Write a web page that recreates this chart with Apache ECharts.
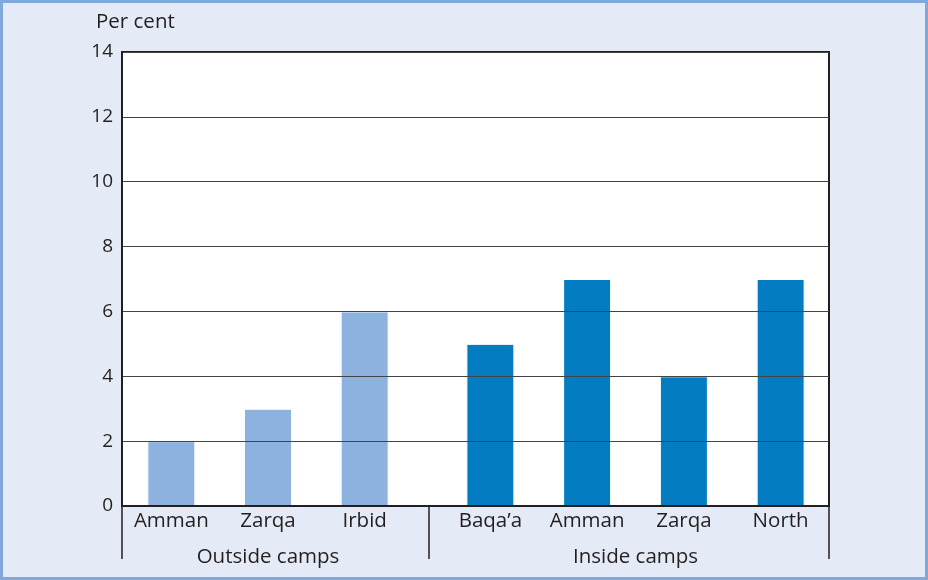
<!DOCTYPE html>
<html>
<head>
<meta charset="utf-8">
<script src="https://cdn.jsdelivr.net/npm/echarts@6/dist/echarts.min.js"></script>
<style>
html, body { margin: 0; padding: 0; }
#frame {
    position: absolute; left: 0; top: 0;
    width: 928px; height: 580px;
    box-sizing: border-box;
    background: #e4eaf6;
    border: 3px solid #80a8db;
}
#chart { position: absolute; left: 0; top: 0; width: 928px; height: 580px; }
</style>
</head>
<body>
<div id="frame"></div>
<div id="chart"></div>
<script>
// data
const outsideCats = ['Amman', 'Zarqa', 'Irbid']
const outsideVals = [2, 3, 6]
const insideCats = ['Baqa\u2019a', 'Amman', 'Zarqa', 'North']
const insideVals = [5, 7, 4, 7]
const groupNames = ['Outside camps', 'Inside camps']
const yTicks = { min: 0, max: 14, interval: 2 }

const textColor = '#231f20'
const font = 'Open Sans'
const plotTop = 52
const plotHeight = 454

const chart = echarts.init(document.getElementById('chart'))

const hiddenY = (gridIndex) => ({
    type: 'value',
    gridIndex: gridIndex,
    min: yTicks.min,
    max: yTicks.max,
    interval: yTicks.interval,
    axisLine: { show: false },
    axisTick: { show: false },
    axisLabel: { show: false },
    splitLine: { show: false }
})

const catX = (gridIndex, cats, name) => ({
    type: 'category',
    gridIndex: gridIndex,
    data: cats,
    axisLine: { show: false },
    axisTick: { show: false },
    axisLabel: { color: textColor, fontSize: 20.5, fontFamily: font, margin: 5,
                 interval: 0, hideOverlap: false },
    name: name,
    nameLocation: 'middle',
    nameGap: 41,
    nameTextStyle: { color: textColor, fontSize: 20.5, fontFamily: font }
})

chart.setOption({
    animation: false,
    title: {
        text: 'Per cent',
        left: 91,
        top: 7,
        textStyle: { color: textColor, fontSize: 20.5, fontWeight: 'normal', fontFamily: font }
    },
    grid: [
        // full plot frame with gridlines
        { left: 122, width: 707, top: plotTop, height: plotHeight, show: true,
          backgroundColor: '#fff', borderColor: textColor, borderWidth: 2 },
        { left: 123, width: 290, top: plotTop, height: plotHeight },
        { left: 442, width: 387, top: plotTop, height: plotHeight }
    ],
    xAxis: [
        {
            type: 'value',
            gridIndex: 0,
            min: 0,
            max: 1,
            z: 5,
            axisLine: { show: true, lineStyle: { color: textColor, width: 2 } },
            axisTick: { show: true, customValues: [0, 0.434, 1], length: 53,
                        lineStyle: { color: textColor, width: 1.5 } },
            axisLabel: { show: false },
            splitLine: { show: false }
        },
        catX(1, outsideCats, groupNames[0]),
        catX(2, insideCats, groupNames[1])
    ],
    yAxis: [
        {
            type: 'value',
            gridIndex: 0,
            min: yTicks.min,
            max: yTicks.max,
            interval: yTicks.interval,
            z: 5,
            axisLine: { show: true, lineStyle: { color: textColor, width: 2 } },
            axisTick: { show: false },
            axisLabel: { color: textColor, fontSize: 19, fontFamily: font, margin: 9 },
            splitLine: { show: true, lineStyle: { color: '#444', width: 1.2 } }
        },
        hiddenY(1),
        hiddenY(2)
    ],
    series: [
        {
            type: 'bar',
            xAxisIndex: 1,
            yAxisIndex: 1,
            data: outsideVals,
            barWidth: 48,
            itemStyle: { color: '#8db2df', borderColor: '#fff', borderWidth: 1 }
        },
        {
            type: 'bar',
            xAxisIndex: 2,
            yAxisIndex: 2,
            data: insideVals,
            barWidth: 48,
            itemStyle: { color: '#037cc2', borderColor: '#fff', borderWidth: 1 }
        }
    ]
})
</script>
</body>
</html>
